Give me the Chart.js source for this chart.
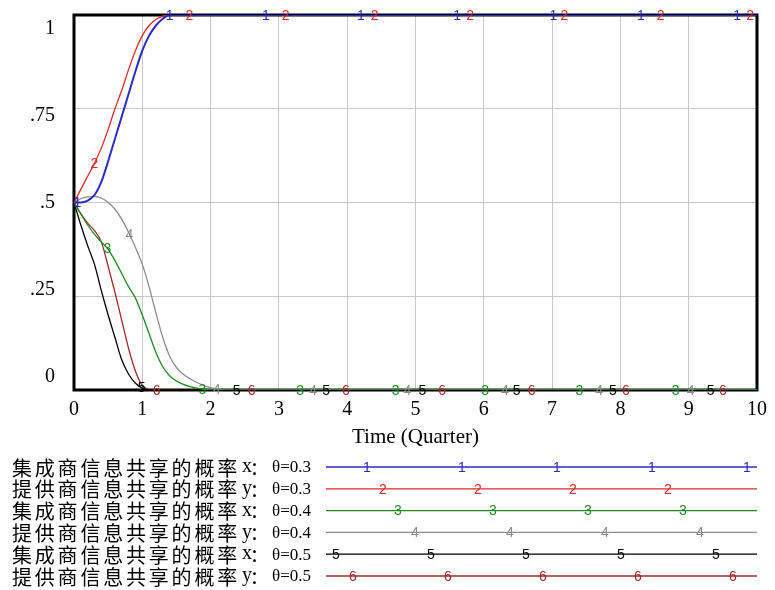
<!DOCTYPE html>
<html lang="zh">
<head>
<meta charset="UTF-8" />
<title>信息共享概率</title>
<script src="https://cdn.jsdelivr.net/npm/chart.js"></script>
<style>
  html, body { margin: 0; padding: 0; background: #fff; }
  #wrap { width: 775px; height: 590px; }
</style>
</head>
<body>
<div id="wrap"><canvas id="shareChart" width="775" height="590"></canvas></div>

<script>
// simulation time in quarters; every run has settled by t = 2.2
const time = [0, 0.1, 0.2, 0.3, 0.4, 0.5, 0.6, 0.7, 0.8, 0.9, 1.0, 1.1, 1.2, 1.3, 1.4, 1.5, 1.6, 1.7, 1.8, 1.9, 2.0, 2.2, 10];

const integratorX03 = [0.5, 0.5, 0.505, 0.52, 0.555, 0.61, 0.67, 0.73, 0.79, 0.85, 0.905, 0.945, 0.972, 0.99, 1, 1, 1, 1, 1, 1, 1, 1, 1];
const supplierY03   = [0.5, 0.535, 0.57, 0.605, 0.645, 0.695, 0.75, 0.8, 0.855, 0.905, 0.945, 0.972, 0.988, 0.997, 1, 1, 1, 1, 1, 1, 1, 1, 1];
const integratorX04 = [0.5, 0.47, 0.44, 0.415, 0.395, 0.375, 0.345, 0.31, 0.275, 0.245, 0.2, 0.15, 0.1, 0.062, 0.038, 0.024, 0.015, 0.009, 0.005, 0.002, 0.001, 0, 0];
const supplierY04   = [0.5, 0.51, 0.515, 0.516, 0.512, 0.5, 0.482, 0.455, 0.42, 0.38, 0.335, 0.275, 0.205, 0.14, 0.09, 0.06, 0.042, 0.03, 0.02, 0.012, 0.006, 0, 0];
const integratorX05 = [0.5, 0.44, 0.385, 0.335, 0.265, 0.2, 0.14, 0.08, 0.042, 0.018, 0.005, 0, 0, 0, 0, 0, 0, 0, 0, 0, 0, 0, 0];
const supplierY05   = [0.5, 0.47, 0.445, 0.425, 0.395, 0.33, 0.26, 0.185, 0.11, 0.05, 0.012, 0.002, 0, 0, 0, 0, 0, 0, 0, 0, 0, 0, 0];

const seriesNames = ['集成商信息共享的概率', '提供商信息共享的概率', '集成商信息共享的概率', '提供商信息共享的概率', '集成商信息共享的概率', '提供商信息共享的概率'];
const seriesVars  = ['x', 'y', 'x', 'y', 'x', 'y'];
const seriesTheta = ['θ=0.3', 'θ=0.3', 'θ=0.4', 'θ=0.4', 'θ=0.5', 'θ=0.5'];

// times at which each run carries its number tag
const markTimes = [
  [0.05, 1.4, 2.81, 4.2, 5.61, 7.02, 8.3, 9.71],
  [0.3, 1.69, 3.1, 4.4, 5.8, 7.18, 8.59, 9.9],
  [0.49, 1.88, 3.31, 4.71, 6.02, 7.4, 8.81],
  [0.81, 2.09, 3.5, 4.88, 6.31, 7.69, 9.03],
  [0.99, 2.38, 3.69, 5.1, 6.48, 7.89, 9.32],
  [1.21, 2.6, 3.98, 5.39, 6.7, 8.08, 9.5]
];

const yTicks = [0, 0.25, 0.5, 0.75, 1];
const yTickText = ['0', '.25', '.5', '.75', '1'];

const colors = ['#2b2bc4', '#e02626', '#1f8a1f', '#8c8c8c', '#000000', '#a02a2a'];
const allSeries = [integratorX03, supplierY03, integratorX04, supplierY04, integratorX05, supplierY05];

const SERIF = '"Liberation Serif", "Times New Roman", serif';
const CJK = '"Noto Sans CJK SC", sans-serif';
const TAG_FONT = '14px "Liberation Sans", Arial, sans-serif';

function valueAt(series, t) {
  for (let i = 1; i < time.length; i++) {
    if (t <= time[i]) {
      const f = (t - time[i - 1]) / (time[i] - time[i - 1]);
      return series[i - 1] + f * (series[i] - series[i - 1]);
    }
  }
  return series[series.length - 1];
}

// black frame round the plot, under the runs
const framePlugin = {
  id: 'frame',
  beforeDatasetsDraw(chart) {
    const { ctx, chartArea: a } = chart;
    ctx.save();
    ctx.strokeStyle = '#000';
    ctx.lineWidth = 3;
    ctx.strokeRect(a.left, a.top, a.right - a.left, a.bottom - a.top);
    ctx.restore();
  }
};

// number tags sitting on each run
const tagPlugin = {
  id: 'tags',
  afterDatasetsDraw(chart) {
    const { ctx, scales: { x, y } } = chart;
    ctx.save();
    ctx.font = TAG_FONT;
    ctx.textAlign = 'center';
    ctx.textBaseline = 'middle';
    for (let s = allSeries.length - 1; s >= 0; s--) {
      ctx.fillStyle = colors[s];
      markTimes[s].forEach(t => {
        ctx.fillText(String(s + 1), x.getPixelForValue(t), y.getPixelForValue(valueAt(allSeries[s], t)) + 1);
      });
    }
    ctx.restore();
  }
};

// y labels are spread slightly inside the grid lines
const yLabelPlugin = {
  id: 'yLabels',
  afterDraw(chart) {
    const { ctx, chartArea: a, scales: { y } } = chart;
    const h = a.bottom - a.top;
    ctx.save();
    ctx.font = '20px ' + SERIF;
    ctx.fillStyle = '#000';
    ctx.textAlign = 'right';
    ctx.textBaseline = 'middle';
    yTicks.forEach((v, i) => {
      const pix = y.getPixelForValue(v);
      ctx.fillText(yTickText[i], a.left - 19, a.top + 14 + (pix - a.top) * (h - 27) / h);
    });
    ctx.restore();
  }
};

// legend rows under the time axis
const legendPlugin = {
  id: 'runLegend',
  afterDraw(chart) {
    const { ctx } = chart;
    const rowTop = 467, rowGap = 21.8;
    const lineStart = 326, lineEnd = 757;
    const tagStart = [367, 383, 398, 415, 336, 353];
    ctx.save();
    seriesNames.forEach((name, i) => {
      const yy = rowTop + i * rowGap;
      ctx.fillStyle = '#000';
      ctx.textBaseline = 'middle';
      ctx.textAlign = 'left';
      ctx.font = '20px ' + CJK;
      [...name].forEach((ch, k) => ctx.fillText(ch, 12 + k * 22.8, yy + 1));
      ctx.font = '20px ' + SERIF;
      ctx.fillText(seriesVars[i], 242, yy);
      ctx.font = '18px ' + CJK;
      ctx.fillText('：', 250, yy + 1);
      ctx.font = '17px ' + SERIF;
      ctx.fillText(seriesTheta[i], 272, yy + 1);

      ctx.strokeStyle = colors[i];
      ctx.lineWidth = 1.3;
      ctx.beginPath();
      ctx.moveTo(lineStart, yy);
      ctx.lineTo(lineEnd, yy);
      ctx.stroke();

      ctx.fillStyle = colors[i];
      ctx.font = TAG_FONT;
      ctx.textAlign = 'center';
      for (let p = tagStart[i]; p < lineEnd; p += 95) {
        ctx.fillText(String(i + 1), p, yy + 1);
      }
    });
    ctx.restore();
  }
};

function renderChart() {
  const ctx = document.getElementById('shareChart').getContext('2d');
  new Chart(ctx, {
    type: 'line',
    data: {
      datasets: allSeries.map((s, i) => ({
        label: seriesNames[i] + seriesVars[i] + '：' + seriesTheta[i],
        data: time.map((t, k) => ({ x: t, y: s[k] })),
        borderColor: colors[i],
        borderWidth: i === 0 ? 2 : 1.3,
        pointRadius: 0,
        cubicInterpolationMode: 'monotone',
        fill: false
      }))
    },
    options: {
      responsive: false,
      animation: false,
      layout: { padding: { top: 15, right: 12, bottom: 140, left: 0 } },
      plugins: {
        legend: { display: false },
        title: { display: false },
        tooltip: { enabled: false }
      },
      scales: {
        x: {
          type: 'linear',
          min: 0,
          max: 10,
          ticks: {
            stepSize: 1,
            padding: 8,
            color: '#000',
            font: { family: SERIF, size: 20 },
            maxRotation: 0
          },
          grid: { color: '#c8c8c8', lineWidth: 1, drawTicks: false },
          border: { display: false },
          title: {
            display: true,
            text: 'Time (Quarter)',
            color: '#000',
            font: { family: SERIF, size: 21 },
            padding: { top: 0, bottom: 0 }
          },
          afterFit(scale) { scale.height = 60; }
        },
        y: {
          min: 0,
          max: 1,
          ticks: { stepSize: 0.25, display: false },
          grid: { color: '#c8c8c8', lineWidth: 1, drawTicks: false },
          border: { display: false },
          afterFit(scale) { scale.width = 74; }
        }
      }
    },
    plugins: [framePlugin, tagPlugin, yLabelPlugin, legendPlugin]
  });
}

window.onload = renderChart;
</script>
</body>
</html>
